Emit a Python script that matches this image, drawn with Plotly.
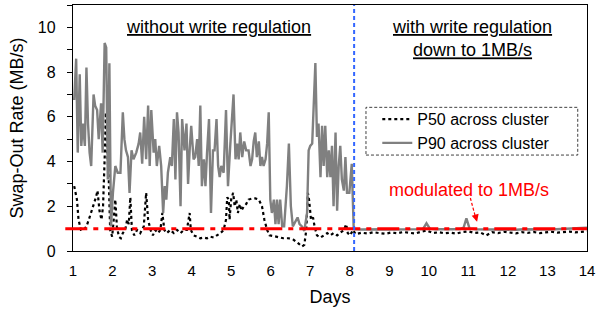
import plotly.graph_objects as go

# ---------------- data ----------------
p90_days = [1.03, 1.08, 1.12, 1.17, 1.21, 1.25, 1.30, 1.34, 1.38, 1.42, 1.46, 1.52, 1.56, 1.61, 1.65,
            1.71, 1.75, 1.80, 1.84, 1.88, 1.92, 1.96, 2.01, 2.07, 2.13, 2.20, 2.26, 2.30, 2.34, 2.39,
            2.43, 2.48, 2.53, 2.60, 2.66, 2.70, 2.75, 2.80, 2.85, 2.90, 2.94, 2.98, 3.04, 3.08, 3.12,
            3.18, 3.23, 3.28, 3.32, 3.36, 3.40, 3.46, 3.50, 3.55, 3.59, 3.63, 3.67, 3.72, 3.76, 3.82,
            3.87, 3.91, 3.95, 3.99, 4.05, 4.09, 4.14, 4.18, 4.22, 4.26, 4.31, 4.35, 4.39, 4.44, 4.49,
            4.54, 4.58, 4.63, 4.67, 4.71, 4.75, 4.81, 4.87, 4.92, 4.98, 5.02, 5.06, 5.11, 5.15, 5.19,
            5.23, 5.28, 5.33, 5.38, 5.44, 5.49, 5.53, 5.57, 5.61, 5.65, 5.70, 5.74, 5.78, 5.82, 5.87,
            5.91, 5.95, 5.99, 6.03, 6.08, 6.12, 6.16, 6.20, 6.24, 6.29, 6.34, 6.41, 6.46, 6.51, 6.56,
            6.62, 6.68, 6.73, 6.79, 6.85, 6.92, 6.96, 7.00, 7.05, 7.09, 7.13, 7.17, 7.21, 7.26, 7.30,
            7.34, 7.38, 7.43, 7.47, 7.51, 7.55, 7.59, 7.64, 7.68, 7.72, 7.76, 7.80, 7.85, 7.89, 7.93,
            7.99, 8.05, 8.08,
            8.10, 8.30, 8.50, 8.70, 8.90, 9.10, 9.30, 9.50, 9.70, 9.85, 9.94, 10.03, 10.20, 10.40,
            10.60, 10.80, 10.88, 10.95, 11.03, 11.20, 11.40, 11.60, 11.80, 12.00, 12.20, 12.40, 12.60,
            12.80, 13.00, 13.20, 13.40, 13.60, 13.80, 14.00]
p90_rate = [6.75, 8.6, 4.4, 7.9, 4.7, 5.7, 4.7, 8.2, 5.7, 4.4, 3.8, 7.0, 6.5, 6.3, 5.0,
            6.6, 4.4, 9.3, 9.1, 3.2, 8.4, 1.1, 2.6, 3.8, 3.5, 3.5, 6.2, 5.0, 4.5, 4.2,
            2.6, 4.5, 4.1, 4.4, 4.8, 5.3, 3.9, 6.0, 4.1, 6.5, 3.8, 6.3, 4.4, 5.0, 3.8,
            4.7, 3.8, 1.7, 2.9, 2.3, 3.5, 4.2, 3.8, 5.9, 3.2, 6.2, 5.3, 2.0, 5.9, 4.5,
            5.7, 3.0, 4.5, 5.6, 4.1, 4.2, 5.0, 3.8, 6.5, 2.9, 4.1, 2.9, 4.4, 5.9, 1.7,
            4.5, 4.5, 5.9, 3.8, 3.3, 3.8, 3.5, 6.3, 2.9, 4.8, 6.0, 7.0, 4.1, 4.8, 4.1,
            5.3, 4.2, 4.9, 4.5, 4.5, 3.8, 4.1, 4.9, 5.3, 4.2, 4.9, 3.8, 4.2, 3.8, 4.1,
            4.8, 6.2, 2.3, 1.7, 2.3, 1.2, 2.3, 1.2, 2.3, 1.1, 1.1, 2.9, 4.8, 2.0, 1.1,
            1.3, 1.5, 1.2, 1.1, 0.9, 1.7, 4.5, 4.7, 4.8, 6.3, 8.4, 5.1, 5.7, 3.3, 5.6,
            3.8, 5.6, 3.3, 4.5, 3.3, 4.7, 2.0, 5.3, 1.8, 3.8, 4.7, 3.2, 2.7, 4.2, 2.6,
            2.6, 3.9, 1.1,
            0.98, 0.96, 0.97, 0.95, 0.97, 0.96, 0.97, 0.96, 0.97, 0.98, 1.24, 0.99, 0.97, 0.96,
            0.97, 0.98, 1.05, 1.46, 1.00, 0.97, 0.96, 0.95, 0.97, 0.96, 0.95, 0.97, 0.96,
            0.95, 0.96, 0.97, 0.98, 0.99, 1.00, 1.04]

p50_days = [1.03, 1.10, 1.14, 1.20, 1.27, 1.34, 1.40, 1.46, 1.52, 1.58, 1.62, 1.67, 1.72, 1.76,
            1.80, 1.83, 1.86, 1.90, 1.94, 1.99, 2.03, 2.07, 2.11, 2.16, 2.21, 2.26, 2.32, 2.37,
            2.41, 2.45, 2.49, 2.55, 2.62, 2.70, 2.79, 2.85, 2.90, 2.96, 3.02, 3.08, 3.15, 3.21,
            3.26, 3.31, 3.37, 3.46, 3.55, 3.63, 3.72, 3.80, 3.88, 3.95, 3.98, 4.05, 4.14, 4.22,
            4.31, 4.39, 4.47, 4.56, 4.64, 4.73, 4.81, 4.87, 4.90, 4.94, 4.96, 5.00, 5.05, 5.09,
            5.13, 5.17, 5.22, 5.26, 5.32, 5.38, 5.44, 5.53, 5.61, 5.70, 5.78, 5.84, 5.91, 5.97,
            6.07, 6.20, 6.32, 6.45, 6.58, 6.70, 6.79, 6.85, 6.90, 6.94, 6.97, 7.02, 7.07, 7.11,
            7.17, 7.26, 7.34, 7.43, 7.51, 7.59, 7.68, 7.76, 7.85, 7.91, 7.95, 8.01, 8.08,
            8.15, 8.30, 8.45, 8.60, 8.75, 8.90, 9.05, 9.20, 9.35, 9.50, 9.65, 9.80, 9.95, 10.10,
            10.25, 10.40, 10.55, 10.70, 10.85, 11.00, 11.15, 11.30, 11.45, 11.60, 11.75, 11.90,
            12.05, 12.20, 12.35, 12.50, 12.65, 12.80, 12.95, 13.10, 13.25, 13.40, 13.55, 13.70,
            13.85, 14.00]
p50_rate = [2.9, 2.3, 1.4, 0.94, 0.94, 1.1, 1.4, 1.7, 2.0, 2.4, 2.7, 1.8, 1.4, 2.0,
            4.1, 6.2, 4.5, 3.5, 0.94, 0.64, 1.4, 2.3, 1.1, 0.64, 0.57, 0.8, 0.94, 1.4,
            1.2, 2.4, 0.94, 0.7, 0.94, 0.8, 1.1, 2.6, 1.4, 0.94, 0.7, 0.94, 0.8, 0.94,
            1.7, 0.94, 0.8, 0.94, 0.8, 0.94, 0.8, 0.94, 0.94, 1.7, 0.94, 0.7, 0.64, 0.57,
            0.6, 0.57, 0.64, 0.6, 0.7, 0.8, 0.94, 1.4, 2.4, 2.3, 1.4, 2.3, 2.6, 2.0,
            2.3, 1.7, 2.1, 1.8, 2.0, 2.1, 2.3, 2.35, 2.35, 2.3, 2.0, 1.4, 0.94, 0.7,
            0.67, 0.6, 0.57, 0.57, 0.5, 0.34, 0.2, 0.27, 0.94, 2.6, 2.3, 1.4, 1.5, 1.1,
            0.7, 0.6, 0.7, 0.8, 0.7, 0.8, 0.7, 0.8, 0.94, 1.2, 0.8, 0.7, 0.94,
            0.75, 0.82, 0.78, 0.84, 0.80, 0.77, 0.83, 0.79, 0.85, 0.81, 0.78, 0.86, 0.92, 0.80,
            0.84, 0.79, 0.82, 0.78, 0.85, 0.88, 0.81, 0.83, 0.70, 0.84, 0.80, 0.86,
            0.82, 0.79, 0.84, 0.81, 0.85, 0.80, 0.83, 0.86, 0.82, 0.84, 0.87, 0.83,
            0.85, 0.88]

x_ticks = list(range(1, 15))
y_ticks = [0, 2, 4, 6, 8, 10]
regulation_start = 8.11
target_rate = 1.0

FONT = "Arial, Liberation Sans, sans-serif"

fig = go.Figure()
fig.add_trace(go.Scatter(x=p50_days, y=p50_rate, mode="lines", name="P50 across cluster",
                         line=dict(color="black", width=2.2, dash="dot")))
fig.add_trace(go.Scatter(x=p90_days, y=p90_rate, mode="lines", name="P90 across cluster",
                         line=dict(color="#808080", width=2.4)))

# red target line
fig.add_shape(type="line", xref="paper", yref="y", x0=-0.015, x1=1, y0=target_rate, y1=target_rate,
              line=dict(color="#ff0000", width=3, dash="22px,6px,5px,6px"), layer="above")
# blue regulation start
fig.add_shape(type="line", xref="x", yref="paper", x0=regulation_start, x1=regulation_start, y0=0, y1=1,
              line=dict(color="#3366ff", width=2, dash="4px,3px"))
# legend box
fig.add_shape(type="rect", xref="paper", yref="paper", x0=0.570, x1=0.982, y0=0.390, y1=0.584,
              line=dict(color="#404040", width=1, dash="3px,2px"))
# arrow (dashed shaft + head)
fig.add_shape(type="line", xref="x", yref="y", x0=11.05, y0=2.37, x1=11.20, y1=1.38,
              line=dict(color="#ff0000", width=1.2, dash="3px,2px"))
fig.add_annotation(x=11.22, y=1.31, ax=11.19, ay=1.50, axref="x", ayref="y", text="",
                   showarrow=True, arrowhead=2, arrowsize=1.2, arrowwidth=1.2, arrowcolor="#ff0000")

fig.add_annotation(x=(218 - 73) / 514, y=(251 - 27) / 246, xref="paper", yref="paper",
                   text="<u>without write regulation</u>", showarrow=False,
                   font=dict(family=FONT, size=18, color="black"), xanchor="center", yanchor="middle")
fig.add_annotation(x=(472 - 73) / 514, y=(251 - 38.5) / 246, xref="paper", yref="paper",
                   text="<u>with write regulation</u><br><u>down to 1MB/s</u>", showarrow=False,
                   font=dict(family=FONT, size=18, color="black"), xanchor="center", yanchor="middle")
fig.add_annotation(x=(469 - 73) / 514, y=(251 - 190) / 246, xref="paper", yref="paper",
                   text="modulated to 1MB/s", showarrow=False,
                   font=dict(family=FONT, size=18, color="#ff0000"), xanchor="center", yanchor="middle")

fig.update_layout(
    width=596, height=313,
    margin=dict(l=73, r=9, t=5, b=62),
    paper_bgcolor="white", plot_bgcolor="white",
    font=dict(family=FONT, size=15, color="black"),
    showlegend=True,
    legend=dict(x=0.592, y=0.605, xanchor="left", yanchor="top", bgcolor="rgba(0,0,0,0)",
                borderwidth=0, font=dict(family=FONT, size=16), tracegroupgap=0),
    xaxis=dict(range=[1, 14], tickvals=x_ticks, ticks="", showgrid=False, zeroline=False,
               showline=True, linecolor="black", linewidth=1.3, mirror=True, automargin=False,
               ticklabelstandoff=6, ticklabeloverflow="allow", tickfont=dict(size=15),
               title=dict(text="Days", font=dict(family=FONT, size=18), standoff=12)),
    yaxis=dict(range=[0, 11], tickvals=y_ticks, ticks="outside", ticklen=5, tickcolor="black",
               showgrid=False, zeroline=False, showline=True, linecolor="black", linewidth=1.3,
               mirror=True, tickfont=dict(size=16), automargin=False, ticklabelstandoff=8,
               minor=dict(dtick=1, ticks="outside", ticklen=5, tickcolor="black", showgrid=False),
               title=dict(text="Swap-Out Rate (MB/s)", font=dict(family=FONT, size=18), standoff=9)),
)

fig.write_html("out.html", config={"displayModeBar": False},
               post_script="document.body.style.margin='0';document.body.style.padding='0';")
